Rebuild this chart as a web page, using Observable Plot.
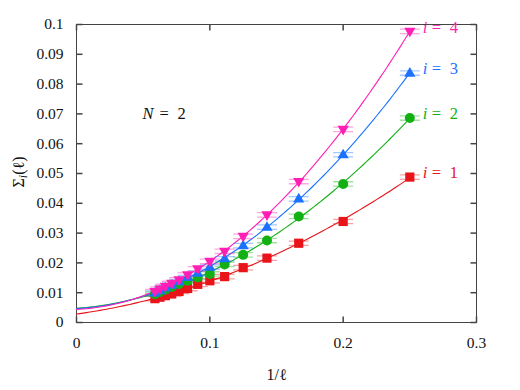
<!DOCTYPE html>
<html>
<head>
<meta charset="utf-8">
<script src="https://cdn.jsdelivr.net/npm/d3@7"></script>
<script src="https://cdn.jsdelivr.net/npm/@observablehq/plot@0.6"></script>
<style>
  html, body { margin: 0; padding: 0; background: #fff; }
</style>
</head>
<body>
<div id="chart"></div>
<script>
// ---- data ----
const ells = [4, 5, 6, 7, 8, 9, 10, 11, 12, 13, 14, 15, 16, 17];
const seriesNames = ["1", "2", "3", "4"];
const sigma1 = [0.0488, 0.0339, 0.0266, 0.0216, 0.0184, 0.0154, 0.0140, 0.0128, 0.0114, 0.0104, 0.0096, 0.0090, 0.0085, 0.0080];
const sigma2 = [0.0686, 0.0465, 0.0356, 0.0275, 0.0227, 0.0195, 0.0163, 0.0151, 0.0140, 0.0129, 0.0119, 0.0110, 0.0102, 0.0095];
const sigma3 = [0.0837, 0.0563, 0.0415, 0.0320, 0.0258, 0.0214, 0.0186, 0.0166, 0.0151, 0.0137, 0.0125, 0.0116, 0.0107, 0.0099];
const sigma4 = [0.0977, 0.0648, 0.0473, 0.0361, 0.0289, 0.0239, 0.0205, 0.0180, 0.0160, 0.0143, 0.0131, 0.0121, 0.0112, 0.0104];
const xTicks = [0, 0.1, 0.2, 0.3];
const yTicks = [0, 0.01, 0.02, 0.03, 0.04, 0.05, 0.06, 0.07, 0.08, 0.09, 0.1];
const colors = ["#e8141a", "#12b012", "#1a72ff", "#ff1fb4"];

const allSigma = [sigma1, sigma2, sigma3, sigma4];
const points = allSigma.flatMap((arr, k) =>
  ells.map((l, j) => ({x: 1 / l, y: arr[j], s: k})));

// quadratic least-squares fit of each series (fit curves of the figure)
function quadFit(xs, ys) {
  const S = [0, 0, 0, 0, 0], T = [0, 0, 0];
  xs.forEach((x, i) => {
    for (let p = 0; p < 5; p++) S[p] += Math.pow(x, p);
    for (let p = 0; p < 3; p++) T[p] += Math.pow(x, p) * ys[i];
  });
  const M = [[S[0], S[1], S[2], T[0]], [S[1], S[2], S[3], T[1]], [S[2], S[3], S[4], T[2]]];
  for (let c = 0; c < 3; c++) {
    for (let r = c + 1; r < 3; r++) {
      const f = M[r][c] / M[c][c];
      for (let k = c; k < 4; k++) M[r][k] -= f * M[c][k];
    }
  }
  const sol = [0, 0, 0];
  for (let r = 2; r >= 0; r--) {
    let v = M[r][3];
    for (let k = r + 1; k < 3; k++) v -= M[r][k] * sol[k];
    sol[r] = v / M[r][r];
  }
  return sol;
}
const grid = d3.range(0, 0.25 + 1e-9, 0.0025);
const fits = allSigma.flatMap((arr, k) => {
  const [a, b, c] = quadFit(ells.map(l => 1 / l), arr);
  return grid.map(x => ({x, y: a + b * x + c * x * x, s: k}));
});
const lastPoints = points.filter(d => d.x === 1 / ells[0]);

// ---- symbols ----
const symSquare = {draw(c) { c.rect(-4.6, -4.6, 9.2, 9.2); }};
const symCircle = {draw(c) { c.moveTo(5, 0); c.arc(0, 0, 5, 0, 2 * Math.PI); }};
const symUp = {draw(c) { c.moveTo(0, -6); c.lineTo(5.6, 3.6); c.lineTo(-5.6, 3.6); c.closePath(); }};
const symDown = {draw(c) { c.moveTo(0, 6); c.lineTo(5.6, -3.6); c.lineTo(-5.6, -3.6); c.closePath(); }};
const markerSyms = [symSquare, symCircle, symUp, symDown];
const symErr = {draw(c) { c.moveTo(-10, -2.2); c.lineTo(10, -2.2); c.moveTo(-10, 2.2); c.lineTo(10, 2.2); }};
const tickSym = (dx, dy) => ({draw(c) { c.moveTo(0, 0); c.lineTo(dx, dy); }});

const font = "'Liberation Serif', 'DejaVu Serif', serif";
const fmt = d => String(+d.toFixed(2));

const marks = [
  Plot.frame({stroke: "#444"}),
  Plot.dot(xTicks, {x: d => d, frameAnchor: "bottom", symbol: tickSym(0, -6), stroke: "#444", fill: "none"}),
  Plot.dot(xTicks, {x: d => d, frameAnchor: "top", symbol: tickSym(0, 6), stroke: "#444", fill: "none"}),
  Plot.dot(yTicks, {y: d => d, frameAnchor: "left", symbol: tickSym(6, 0), stroke: "#444", fill: "none"}),
  Plot.dot(yTicks, {y: d => d, frameAnchor: "right", symbol: tickSym(-6, 0), stroke: "#444", fill: "none"}),
  Plot.axisX({ticks: xTicks, tickSize: 0, tickPadding: 14, tickFormat: fmt, fontSize: 15.5, fontFamily: font, label: null}),
  Plot.axisY({ticks: yTicks, tickSize: 0, tickPadding: 13, tickFormat: fmt, fontSize: 15.5, fontFamily: font, label: null}),
];
allSigma.forEach((arr, k) => {
  marks.push(Plot.line(fits.filter(d => d.s === k), {x: "x", y: "y", stroke: colors[k], strokeWidth: 1.1}));
});
allSigma.forEach((arr, k) => {
  marks.push(Plot.dot(points.filter(d => d.s === k), {x: "x", y: "y", symbol: symErr, stroke: colors[k], strokeOpacity: 0.4, strokeWidth: 1.3, fill: "none"}));
});
allSigma.forEach((arr, k) => {
  marks.push(Plot.dot(points.filter(d => d.s === k), {x: "x", y: "y", symbol: markerSyms[k], fill: colors[k], stroke: "none"}));
});
const labelSize = 16.5;
lastPoints.forEach(d => {
  const base = {x: "x", y: "y", fill: colors[d.s], fontSize: labelSize, fontFamily: font, textAnchor: "start", dy: -4};
  marks.push(Plot.text([d], {...base, text: () => "i", fontStyle: "italic", dx: 13}));
  marks.push(Plot.text([d], {...base, text: () => "=", dx: 22}));
  marks.push(Plot.text([d], {...base, text: () => seriesNames[d.s], dx: 40}));
});
// annotation N = 2
const ann = [{x: 0.0495, y: 0.0701}];
const annBase = {x: "x", y: "y", fontSize: labelSize, fontFamily: font, textAnchor: "start", fill: "#111"};
marks.push(Plot.text(ann, {...annBase, text: () => "N", fontStyle: "italic"}));
marks.push(Plot.text(ann, {...annBase, text: () => "=", dx: 17}));
marks.push(Plot.text(ann, {...annBase, text: () => "2", dx: 35}));
// x label
marks.push(Plot.text(["1/ℓ"], {frameAnchor: "bottom", text: d => d, dy: 57, fontSize: 16, fontFamily: font, fill: "#111"}));

const chart = Plot.plot({
  width: 520,
  height: 390,
  marginLeft: 76,
  marginRight: 44,
  marginTop: 24,
  marginBottom: 68,
  x: {domain: [0, 0.3]},
  y: {domain: [0, 0.1]},
  style: {fontFamily: font, color: "#111", background: "#fff"},
  marks
});

// y-axis label with subscript
const svg = d3.select(chart);
const yl = svg.append("text")
  .attr("transform", "translate(24,172) rotate(-90)")
  .attr("text-anchor", "middle")
  .attr("font-family", font)
  .attr("font-size", 16)
  .attr("fill", "#111");
yl.append("tspan").text("Σ");
yl.append("tspan").attr("font-style", "italic").attr("font-size", 12).attr("dy", 3).text("i");
yl.append("tspan").attr("dy", -3).text("(ℓ)");

document.getElementById("chart").appendChild(chart);
</script>
</body>
</html>
